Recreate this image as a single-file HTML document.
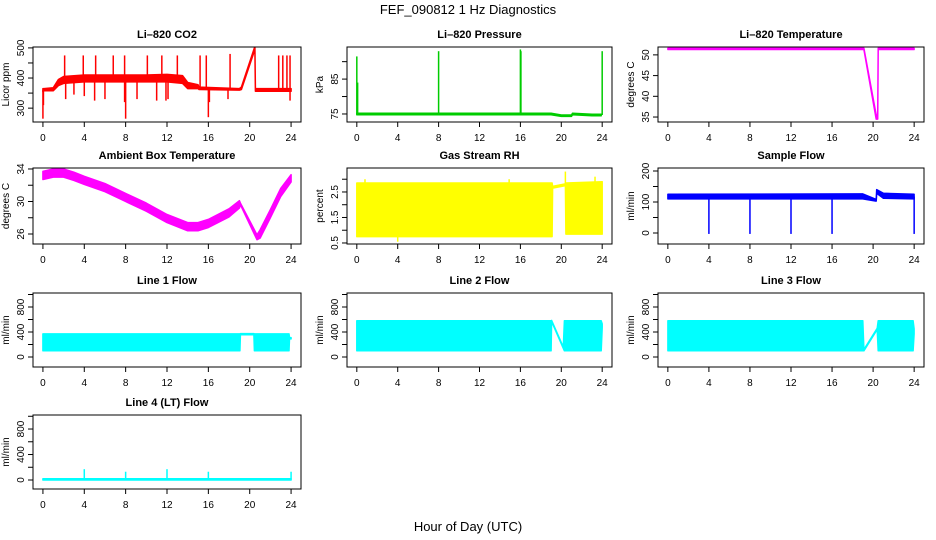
<!DOCTYPE html>
<html><head><meta charset="utf-8"><style>
html,body{margin:0;padding:0;background:#fff;}
svg{display:block;font-family:"Liberation Sans",sans-serif;}
</style></head><body>
<svg id="chart" width="936" height="540" viewBox="0 0 936 540">
<text x="468" y="14" font-size="13" text-anchor="middle">FEF_090812  1 Hz Diagnostics</text>
<text x="468" y="531" font-size="13" text-anchor="middle">Hour of Day (UTC)</text>
</svg>
<script>
// x-axis tick values
const xTicks = [0,4,8,12,16,20,24];

// Li-820 CO2
const co2X  = [0,0.1,1,1.5,2,4,6,8,10,12,13.5,14,15,15.1,19,19.2,20.5,20.55,24];
const co2Lo = [355,358,358,375,382,387,387,387,387,387,382,365,365,362,360,362,495,356,356];
const co2Hi = [365,365,368,395,405,410,410,410,410,412,408,385,378,370,365,370,505,365,365];
const co2SpikeX = [2.1,3.9,5.1,6.8,7.9,10.1,11.5,13.0,15.2,15.8,18.1,22.8,23.2,23.6,23.9,0,0.05,2.2,3.0,4.0,5.0,6.0,7.9,8.0,9.1,11.0,11.9,12.1,16.0,16.1,17.9,23.9];
const co2SpikeY = [475,475,475,475,475,475,475,475,475,475,480,475,475,475,475,265,310,330,345,340,325,330,320,265,330,325,325,330,270,320,330,325];

// Li-820 Pressure
const presX  = [0,19,20,21,21.1,23,23.9];
const presLo = [74.8,74.8,74.3,74.3,74.8,74.5,74.5];
const presHi = [75.2,75.2,74.7,74.7,75.2,74.9,74.9];
const presSpikeX = [0,0.08,8,16,16.05,24];
const presSpikeY = [91.5,84,93,93.5,93,93];

// Li-820 Temperature
const tempX  = [0,19,19.1,20.3,20.45,20.5,24];
const tempLo = [51.3,51.3,51.3,34.5,34.5,51.3,51.3];
const tempHi = [51.6,51.6,51.6,35.5,35.5,51.6,51.6];

// Ambient Box Temperature
const ambX  = [0,1,2,3,4,6,8,10,12,14,15,16,18,19,19.1,20.7,21,22,23,24];
const ambLo = [32.7,33.0,33.0,32.6,32.1,31.2,30.0,28.8,27.4,26.4,26.4,26.8,28.1,29.2,29.6,25.3,25.5,28.0,30.6,32.4];
const ambHi = [33.7,34.0,34.0,33.6,33.1,32.2,31.0,29.8,28.4,27.4,27.4,27.8,29.1,30.1,29.8,25.9,26.5,29.0,31.6,33.3];

// Gas Stream RH
const rhX  = [0,19.1,19.15,20.4,20.45,24];
const rhLo = [0.75,0.75,2.65,2.75,0.85,0.85];
const rhHi = [2.85,2.85,2.72,2.82,2.85,2.9];
const rhSpikeX = [20.4,0.8,4.0,14.9,23.3];
const rhSpikeY = [3.3,3.0,0.55,3.0,3.1];

// Sample Flow
const sfX  = [0,19,20.3,20.35,21,24];
const sfLo = [110,110,103,128,112,110];
const sfHi = [125,126,108,140,128,125];
const sfSpikeX = [4,8,12,16,24];
const sfSpikeY = [-3,-3,-3,-3,-3];

// Line 1 Flow
const l1X  = [0,19.05,19.1,20.4,20.45,23.8,23.85,24];
const l1Lo = [100,100,355,355,100,100,290,290];
const l1Hi = [370,370,375,375,370,370,310,310];

// Line 2 Flow
const l2X  = [0,19,19.05,20.2,20.3,23.9,24];
const l2Lo = [100,100,570,140,100,100,470];
const l2Hi = [580,580,585,160,580,580,530];

// Line 3 Flow
const l3X  = [0,19,19.1,20.4,20.5,23.9,24];
const l3Lo = [100,100,100,440,100,100,370];
const l3Hi = [580,580,120,460,580,580,450];

// Line 4 (LT) Flow
const l4X  = [0,24];
const l4Lo = [0,0];
const l4Hi = [20,20];
const l4SpikeX = [4,8,12,16,24];
const l4SpikeY = [170,130,170,130,130];

const svg = document.getElementById('chart');
const NS = 'http://www.w3.org/2000/svg';
const cols = [[33,301],[347,612],[658,924]];
const rows = [[47,122],[168,244],[293,367],[415,489]];

function mk(tag, attrs){
  const e = document.createElementNS(NS, tag);
  for (const k in attrs) e.setAttribute(k, attrs[k]);
  return e;
}

function panel(p){
  const [bx0,bx1] = cols[p.col], [by0,by1] = rows[p.row];
  const g = mk('g',{});
  
  
  svg.appendChild(g);
  const xs = v => bx0 + (v + 0.96) / 25.92 * (bx1 - bx0);
  const ys = v => by1 - (v - p.dom[0]) / (p.dom[1] - p.dom[0]) * (by1 - by0);
  const t = mk('text',{x:(bx0+bx1)/2, y:by0-9, 'font-size':11, 'font-weight':'bold','text-anchor':'middle'});
  t.textContent = p.title;
  
  
  g.appendChild(t);
  const cid = 'clip-' + p.key;
  const cp = mk('clipPath',{id:cid});
  cp.appendChild(mk('rect',{x:bx0,y:by0,width:bx1-bx0,height:by1-by0}));
  g.appendChild(cp);
  const dg = mk('g',{'clip-path':'url(#'+cid+')'});
  
  
  g.appendChild(dg);
  let pts = [];
  for (let i=0;i<p.X.length;i++) pts.push(xs(p.X[i]).toFixed(1)+','+ys(p.Hi[i]).toFixed(1));
  for (let i=p.X.length-1;i>=0;i--) pts.push(xs(p.X[i]).toFixed(1)+','+ys(p.Lo[i]).toFixed(1));
  const band = mk('polygon',{points:pts.join(' '), fill:p.color, stroke:p.color, 'stroke-width':1.5, 'stroke-linejoin':'round'});
  
  
  dg.appendChild(band);
  if (p.SX){
    for (let i=0;i<p.SX.length;i++){
      const x = p.SX[i];
      let j = 0; while (j < p.X.length-2 && p.X[j+1] < x) j++;
      const f = p.X[j+1]===p.X[j] ? 0 : Math.min(1,Math.max(0,(x-p.X[j])/(p.X[j+1]-p.X[j])));
      const base = ((p.Lo[j]+p.Hi[j])/2)*(1-f) + ((p.Lo[j+1]+p.Hi[j+1])/2)*f;
      const l = mk('line',{x1:xs(x),x2:xs(x),y1:ys(base),y2:ys(p.SY[i]),stroke:p.color,'stroke-width':1.5});
      
      
      dg.appendChild(l);
    }
  }
  const box = mk('rect',{x:bx0,y:by0,width:bx1-bx0,height:by1-by0,fill:'none',stroke:'#000','stroke-width':1});
  
  
  g.appendChild(box);
  const xa = mk('g',{stroke:'#000','stroke-width':1});
  
  
  g.appendChild(xa);
  xa.appendChild(mk('line',{x1:xs(xTicks[0]),x2:xs(xTicks[xTicks.length-1]),y1:by1,y2:by1}));
  xTicks.forEach(v=>{
    xa.appendChild(mk('line',{x1:xs(v),x2:xs(v),y1:by1,y2:by1+5}));
    const tl = mk('text',{x:xs(v),y:by1+19,'font-size':10,'text-anchor':'middle',stroke:'none',fill:'#000'});
    tl.textContent = v;
    
    
    xa.appendChild(tl);
  });
  const ya = mk('g',{stroke:'#000','stroke-width':1});
  
  
  g.appendChild(ya);
  ya.appendChild(mk('line',{x1:bx0,x2:bx0,y1:ys(p.yt[0]),y2:ys(p.yt[p.yt.length-1])}));
  p.yt.forEach(v=>{
    ya.appendChild(mk('line',{x1:bx0-5,x2:bx0,y1:ys(v),y2:ys(v)}));
  });
  p.yl.forEach(v=>{
    const x = bx0-9, y = ys(v);
    const tl = mk('text',{x:x,y:y,'font-size':10,'text-anchor':'middle',transform:'rotate(-90 '+x+' '+y+')',stroke:'none',fill:'#000'});
    tl.textContent = v;
    
    
    ya.appendChild(tl);
  });
  const yx = bx0-24, yy = (by0+by1)/2;
  const yt = mk('text',{x:yx,y:yy,'font-size':10,'text-anchor':'middle',transform:'rotate(-90 '+yx+' '+yy+')'});
  yt.textContent = p.ylab;
  
  
  g.appendChild(yt);
}

const flowTicks = [0,200,400,600,800,1000];
const flowLabels = [0,400,800];
panel({key:'co2',title:'Li\u2013820 CO2',col:0,row:0,dom:[254,503],X:co2X,Lo:co2Lo,Hi:co2Hi,SX:co2SpikeX,SY:co2SpikeY,color:'#ff0000',yt:[300,350,400,450,500],yl:[300,400,500],ylab:'Licor ppm'});
panel({key:'pressure',title:'Li\u2013820 Pressure',col:1,row:0,dom:[72.7,94.2],X:presX,Lo:presLo,Hi:presHi,SX:presSpikeX,SY:presSpikeY,color:'#00cc00',yt:[75,80,85,90],yl:[75,85],ylab:'kPa'});
panel({key:'li820-temp',title:'Li\u2013820 Temperature',col:2,row:0,dom:[33.8,51.9],X:tempX,Lo:tempLo,Hi:tempHi,color:'#ff00ff',yt:[35,40,45,50],yl:[35,40,45,50],ylab:'degrees C'});
panel({key:'ambient-temp',title:'Ambient Box Temperature',col:0,row:1,dom:[24.77,34.12],X:ambX,Lo:ambLo,Hi:ambHi,color:'#ff00ff',yt:[26,28,30,32,34],yl:[26,30,34],ylab:'degrees C'});
panel({key:'rh',title:'Gas Stream RH',col:1,row:1,dom:[0.46,3.44],X:rhX,Lo:rhLo,Hi:rhHi,SX:rhSpikeX,SY:rhSpikeY,color:'#ffff00',yt:[0.5,1,1.5,2,2.5,3],yl:[0.5,1.5,2.5],ylab:'percent'});
panel({key:'sample-flow',title:'Sample Flow',col:2,row:1,dom:[-35.5,209.7],X:sfX,Lo:sfLo,Hi:sfHi,SX:sfSpikeX,SY:sfSpikeY,color:'#0000ff',yt:[0,50,100,150,200],yl:[0,100,200],ylab:'ml/min'});
panel({key:'line1',title:'Line 1 Flow',col:0,row:2,dom:[-160,1024],X:l1X,Lo:l1Lo,Hi:l1Hi,color:'#00ffff',yt:flowTicks,yl:flowLabels,ylab:'ml/min'});
panel({key:'line2',title:'Line 2 Flow',col:1,row:2,dom:[-160,1024],X:l2X,Lo:l2Lo,Hi:l2Hi,color:'#00ffff',yt:flowTicks,yl:flowLabels,ylab:'ml/min'});
panel({key:'line3',title:'Line 3 Flow',col:2,row:2,dom:[-160,1024],X:l3X,Lo:l3Lo,Hi:l3Hi,color:'#00ffff',yt:flowTicks,yl:flowLabels,ylab:'ml/min'});
panel({key:'line4',title:'Line 4 (LT) Flow',col:0,row:3,dom:[-141,1020],X:l4X,Lo:l4Lo,Hi:l4Hi,SX:l4SpikeX,SY:l4SpikeY,color:'#00ffff',yt:flowTicks,yl:flowLabels,ylab:'ml/min'});
</script>
</body></html>
